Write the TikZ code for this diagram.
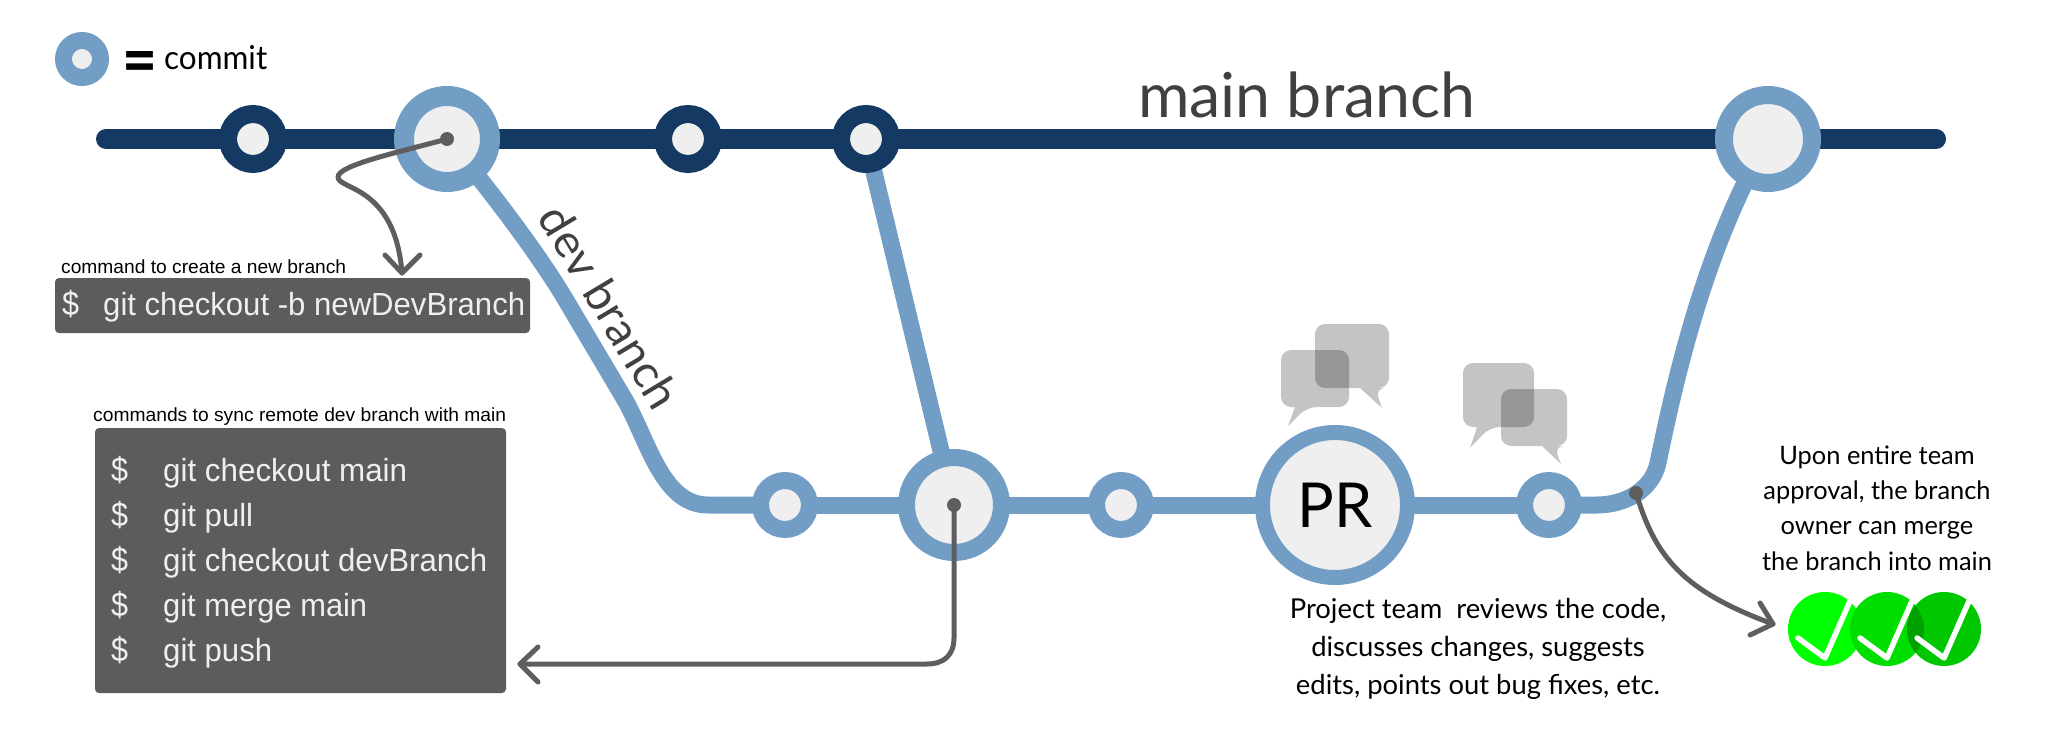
\documentclass[tikz,border=0pt]{standalone}
\usepackage{fontspec}
\usepackage{graphicx}
\setmainfont{Lato}
\newfontfamily\narrowf{Liberation Sans}
\newcommand\fitw[2]{\resizebox{#1pt}{\height}{#2}}
\newcommand\fsz[1]{\fontsize{#1}{#1}\selectfont}
\definecolor{blueC}{HTML}{729DC4}
\definecolor{navyC}{HTML}{143A63}
\definecolor{paleC}{HTML}{EFEFEF}
\definecolor{boxC}{HTML}{5C5C5C}
\definecolor{arrC}{HTML}{5E5E5E}
\definecolor{headC}{HTML}{404040}
\pgfdeclarelayer{lines}
\pgfsetlayers{lines,main}
\tikzset{
  x=1pt,y=-1pt,
  commitnode/.style n args={3}{circle,draw=#3,fill=paleC,inner sep=0pt,
    line width={#1-#2},minimum size={#1+#2}},
  blue small/.style={commitnode={33}{16}{blueC}},
  navy small/.style={commitnode={34}{16}{navyC}},
  branchline/.style={draw=blueC,line width=17pt,line cap=round,line join=round},
  mainline/.style={draw=navyC,line width=20pt,line cap=round},
  dot/.style={circle,fill=arrC,inner sep=0pt,minimum size=14pt},
  pointer/.style={draw=arrC,line width=5pt,line cap=round,line join=round},
  termbox/.style={fill=boxC,rounded corners=4pt},
  termtext/.style={anchor=base west,text=paleC,inner sep=0pt,font=\narrowf\fsz{32}},
  dollar/.style={anchor=base west,text=paleC,inner sep=0pt,font=\narrowf\fsz{34}},
  smalltitle/.style={anchor=base west,text=black,inner sep=0pt,font=\narrowf\fsz{19}},
  bub/.style={fill=black,fill opacity=.23,rounded corners=10pt},
  checknode/.style={circle,inner sep=0pt,minimum size=74pt,fill=#1},
  checkm/.style={draw=white,line width=5.5pt,line cap=round,line join=round},
  para/.style={align=center,inner sep=0pt,text=black},
}
\newcommand\bubble[8]{\fill[bub] (#1,{(#2+#4)/2}) -- (#1,#2) -- (#3,#2) -- (#3,#4) -- (#5,#4) [sharp corners] -- (#6,#7) -- (#8,#4) [rounded corners=10pt] -- (#1,#4) -- cycle;}
\begin{document}
\begin{tikzpicture}
\useasboundingbox (0,0) rectangle (2051,738);
% legend
\node[commitnode={27}{10}{blueC}] (legend) at (82,59) {};
\node[inner sep=0pt,font=\fsz{48}\bfseries] (eq) at (139.5,68) {\resizebox{35pt}{33pt}{=}};
\node[anchor=base west,inner sep=0pt,font=\fsz{33}] (legendtext) at (164,69.5) {\fitw{103}{commit}};
% main branch commits
\coordinate (mstart) at (106,139);
\coordinate (mend) at (1936,139);
\node[navy small] (m1) at (253,139) {};
\node[commitnode={53}{33}{blueC}] (m2) at (447,139) {};
\node[navy small] (m3) at (688,139) {};
\node[navy small] (m4) at (866,139) {};
\node[commitnode={53}{35}{blueC}] (m5) at (1768,139) {};
% dev commits
\node[blue small] (d1) at (785,505) {};
\node[commitnode={56}{39}{blueC}] (d2) at (954,505) {};
\node[blue small] (d3) at (1121,505) {};
\node[commitnode={80}{65}{blueC},font=\fsz{62}] (pr) at (1335,505) {\fitw{75}{PR}};
\node[blue small] (d4) at (1549,505) {};
\begin{pgfonlayer}{lines}
\draw[mainline] (mstart) -- (mend);
\draw[branchline] (m2.center) .. controls (478,175) and (534,247) .. (564,297)
   -- (625,400) .. controls (648,440) and (662,505) .. (708,505) -- (d1.center);
\draw[branchline] (d1.center) -- (d2.center) -- (d3.center) -- (pr.center) -- (d4.center);
\draw[branchline] (m4.center) -- (d2.center);
\draw[branchline] (d4.center) -- (1597,505) .. controls (1625,505) and (1652,490) .. (1658,463)
   .. controls (1680,355) and (1710,240) .. (m5.center);
\end{pgfonlayer}
% labels
\node[anchor=base west,inner sep=0pt,text=headC,font=\fsz{62}] (mainlabel) at (1138,118) {\fitw{337}{main branch}};
\node[rotate=-59,inner sep=0pt,text=headC,font=\fsz{46}] (devlabel) at (610,307) {\fitw{228}{dev branch}};
% terminal 1
\node[smalltitle] (t1) at (61,273) {\fitw{285}{command to create a new branch}};
\fill[termbox] (55,278) rectangle (530,333);
\node[dollar] (b1s) at (62,315) {\fitw{17}{\$}};
\node[termtext] (b1c) at (103,315) {\fitw{422}{git checkout -b newDevBranch}};
% terminal 2
\node[smalltitle] (t2) at (93,421) {\fitw{413}{commands to sync remote dev branch with main}};
\fill[termbox] (95,428) rectangle (506,693);
\node[dollar] (s1) at (111,481) {\fitw{17}{\$}};
\node[dollar] (s2) at (111,526) {\fitw{17}{\$}};
\node[dollar] (s3) at (111,571) {\fitw{17}{\$}};
\node[dollar] (s4) at (111,616) {\fitw{17}{\$}};
\node[dollar] (s5) at (111,661) {\fitw{17}{\$}};
\node[termtext] (c1) at (163,481) {\fitw{244}{git checkout main}};
\node[termtext] (c2) at (163,526) {\fitw{90}{git pull}};
\node[termtext] (c3) at (163,571) {\fitw{324}{git checkout devBranch}};
\node[termtext] (c4) at (163,616) {\fitw{204}{git merge main}};
\node[termtext] (c5) at (163,661) {\fitw{109}{git push}};
% pointers
\node[dot] (p1) at (447,139) {};
\coordinate (p1end) at (402,273);
\draw[pointer] (p1.center) .. controls (400,152) and (338,165) .. (338,177)
  .. controls (338,190) and (395,185) .. (p1end);
\draw[pointer] (385,255) -- (p1end) -- (420,255);
\node[dot] (p2) at (954,505) {};
\coordinate (p2end) at (520,664);
\draw[pointer] (p2.center) -- (954,638) .. controls (954,655) and (944,664) .. (927,664) -- (p2end);
\draw[pointer] (538,647) -- (p2end) -- (538,682);
\node[dot] (p3) at (1636,493) {};
\coordinate (p3end) at (1773,624);
\draw[pointer] (p3.center) .. controls (1655,555) and (1680,590) .. (p3end);
\draw[pointer] (1760,603) -- (p3end) -- (1750,635);
% bubbles
\bubble{1315}{324}{1389}{388}{1375}{1382}{408}{1360}
\bubble{1281}{350}{1349}{407}{1307}{1288}{426}{1295}
\bubble{1463}{363}{1534}{427}{1490}{1470}{448}{1477}
\bubble{1501}{389}{1567}{446}{1554}{1561}{464}{1542}
% paragraphs
\node[para,font=\fontsize{27.4}{38}\selectfont] (review) at (1478,649)
  {Project team \ reviews the code,\\discusses changes, suggests\\edits, points out bug fixes, etc.};
\node[para,font=\fontsize{25.4}{35.3}\selectfont] (upon) at (1877,508)
  {Upon entire team\\approval, the branch\\owner can merge\\the branch into main};
% checks
\node[checknode={green}] (k1) at (1825,629) {};
\draw[checkm] (1798,638) -- (1825,658) -- (1850,601);
\node[checknode={green!87!black}] (k2) at (1887,629) {};
\draw[checkm] (1860,638) -- (1887,658) -- (1912,601);
\node[checknode={green!78!black}] (k3) at (1944,629) {};
\begin{scope}
\clip (1944,629) circle[radius=37];
\fill[green!63!black] (1887,629) circle[radius=37];
\end{scope}
\draw[checkm] (1917,638) -- (1944,658) -- (1969,601);
\end{tikzpicture}
\end{document}
